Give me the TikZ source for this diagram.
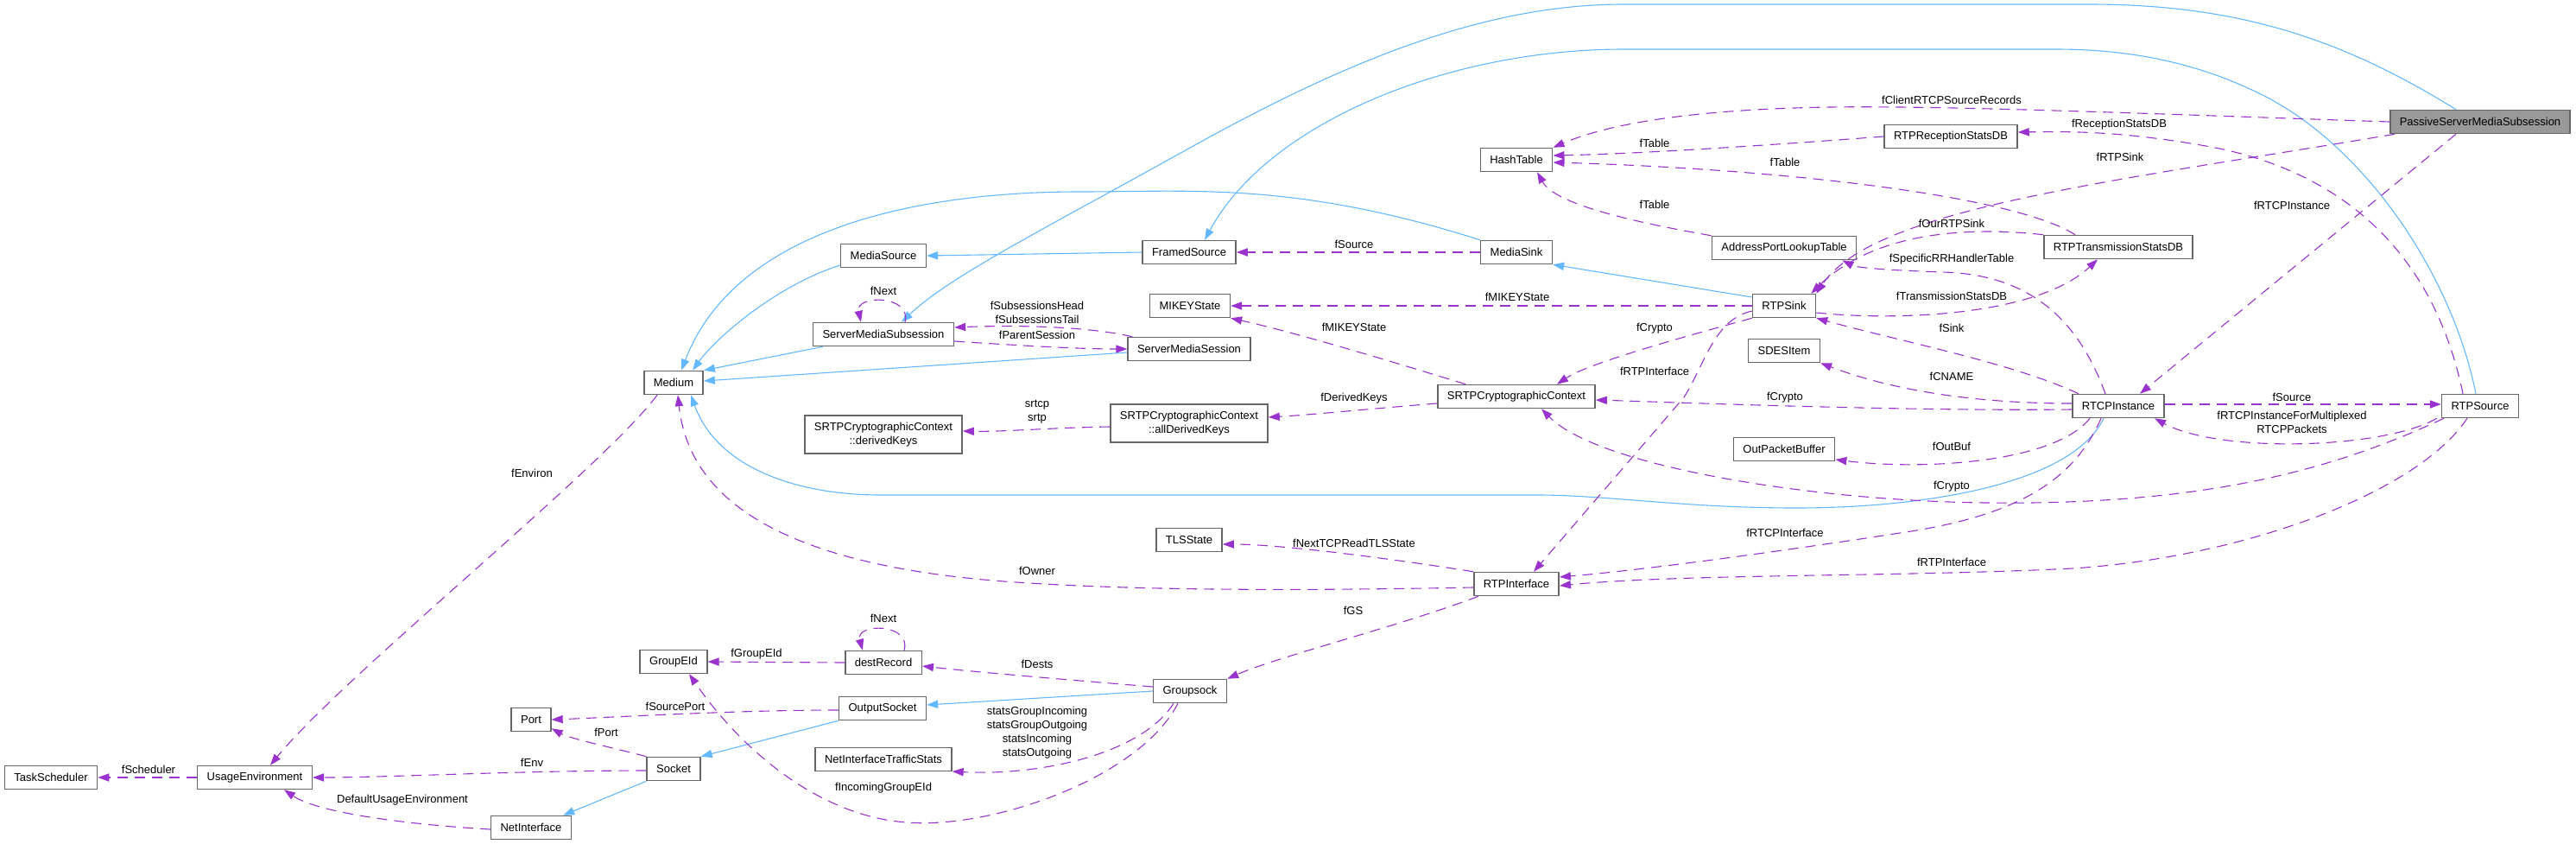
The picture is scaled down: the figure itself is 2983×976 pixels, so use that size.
\documentclass[tikz,border=0pt]{standalone}
\usepackage{fontspec}
\setmainfont{Liberation Sans}
\usetikzlibrary{arrows.meta}
\definecolor{inhblue}{HTML}{63B8FF}
\definecolor{usepurple}{HTML}{9A32CD}
\definecolor{boxgray}{HTML}{666666}
\definecolor{psmsfill}{HTML}{999999}
\begin{document}
\begin{tikzpicture}[x=0.5pt,y=-0.5pt,
  cls/.style={draw=boxgray, line width=0.75pt, fill=white, inner xsep=5.5pt, inner ysep=1pt, minimum height=13.5pt, font=\fontsize{6.5}{8}\selectfont, align=center},
  cls2/.style={cls, minimum height=22pt},
  lbl/.style={font=\fontsize{6.5}{8}\selectfont, align=center, inner sep=0pt},
  inh/.style={draw=inhblue, line width=0.55pt, -{Triangle[length=6.5pt,width=4.6pt]}},
  use/.style={draw=usepurple, line width=0.55pt, dash pattern=on 6pt off 4pt, -{Triangle[length=6.5pt,width=4.6pt]}}]
\useasboundingbox (0,0) rectangle (2983,976);
% nodes
\node[cls, fill=psmsfill] (psms) at (2872,141) {PassiveServerMediaSubsession};
\node[cls] (hash) at (1756,185) {HashTable};
\node[cls] (rrdb) at (2259,158) {RTPReceptionStatsDB};
\node[cls] (aplt) at (2066,287) {AddressPortLookupTable};
\node[cls] (rtdb) at (2453,286) {RTPTransmissionStatsDB};
\node[cls] (msink) at (1756,292) {MediaSink};
\node[cls] (fsrc) at (1377,292) {FramedSource};
\node[cls] (msrc) at (1023,296) {MediaSource};
\node[cls] (mikey) at (1378,354) {MIKEYState};
\node[cls] (rtpsink) at (2066,354) {RTPSink};
\node[cls] (smsub) at (1023,387) {ServerMediaSubsession};
\node[cls] (smsess) at (1377,404) {ServerMediaSession};
\node[cls] (medium) at (780,443) {Medium};
\node[cls] (sdes) at (2066,406) {SDESItem};
\node[cls] (srtp) at (1756,459) {SRTPCryptographicContext};
\node[cls] (rtcp) at (2453,470) {RTCPInstance};
\node[cls] (rtpsrc) at (2872,470) {RTPSource};
\node[cls] (opb) at (2066,520) {OutPacketBuffer};
\node[cls2] (dkeys) at (1023,503) {SRTPCryptographicContext\\::derivedKeys};
\node[cls2] (adkeys) at (1377,490) {SRTPCryptographicContext\\::allDerivedKeys};
\node[cls] (tls) at (1377,625) {TLSState};
\node[cls] (rtpif) at (1756,676) {RTPInterface};
\node[cls] (gid) at (780,766) {GroupEId};
\node[cls] (dest) at (1023,767) {destRecord};
\node[cls] (port) at (615,833) {Port};
\node[cls] (osock) at (1022,820) {OutputSocket};
\node[cls] (gsock) at (1378,800) {Groupsock};
\node[cls] (nits) at (1023,879) {NetInterfaceTrafficStats};
\node[cls] (tasks) at (59,900) {TaskScheduler};
\node[cls] (uenv) at (295,900) {UsageEnvironment};
\node[cls] (socket) at (780,890) {Socket};
\node[cls] (netif) at (615,958) {NetInterface};
% inheritance
\draw[inh] ([xshift=-14pt]psms.north) .. controls (2720,50) and (2600,5) .. (2420,5) -- (1880,5) .. controls (1720,5) and (1560,70) .. (1380,170) .. controls (1200,270) and (1100,320) .. ([xshift=10.5pt]smsub.north);
\draw[inh] ([xshift=-2.5pt]rtpsrc.north) .. controls (2840,320) and (2740,170) .. (2620,110) .. controls (2540,70) and (2460,57) .. (2380,57) -- (1880,57) .. controls (1680,57) and (1470,140) .. ([xshift=9pt]fsrc.north);
\draw[inh] (fsrc.west) -- (msrc.east);
\draw[inh] ([yshift=-5.5pt]msrc.west) .. controls (900,330) and (830,390) .. ([xshift=11pt]medium.north);
\draw[inh] (msink.north west) .. controls (1500,210) and (1380,222) .. (1250,222) .. controls (1050,222) and (850,270) .. ([xshift=4.5pt]medium.north);
\draw[inh] ([yshift=5pt]rtpsink.west) -- (msink.south east);
\draw[inh] ([xshift=6pt]smsub.south west) -- (medium.north east);
\draw[inh] ([yshift=-2pt]smsess.west) -- ([yshift=1pt]medium.east);
\draw[inh] ([xshift=-8.5pt]rtcp.south) .. controls (2400,560) and (2230,588) .. (2080,588) .. controls (1950,588) and (1860,573) .. (1780,573) -- (1020,573) .. controls (920,573) and (830,540) .. ([xshift=10pt]medium.south);
\draw[inh] (osock.south west) -- (socket.north east);
\draw[inh] (gsock.west) -- ([yshift=2pt]osock.east);
\draw[inh] (socket.south west) -- ([xshift=-5pt]netif.north east);
% usage
\draw[use] (psms.west) .. controls (2500,132) and (2250,122) .. (2120,124) .. controls (1980,126) and (1870,140) .. (hash.north east);
\node[lbl] (l1) at (2260,116) {fClientRTCPSourceRecords};
\draw[use] ([xshift=3pt]psms.south west) .. controls (2450,210) and (2170,240) .. (rtpsink.north east);
\node[lbl] (l2) at (2455,182) {fRTPSink};
\draw[use] ([xshift=-14pt]psms.south) -- ([xshift=12.5pt]rtcp.north);
\node[lbl] (l3) at (2654,238) {fRTCPInstance};
\draw[use] (rrdb.west) .. controls (2050,168) and (1900,178) .. ([yshift=2.5pt]hash.east);
\node[lbl] (l4) at (1916,166) {fTable};
\draw[use] ([xshift=-25pt]rtdb.north) .. controls (2330,225) and (2050,195) .. ([yshift=-1.5pt]hash.east);
\node[lbl] (l5) at (2067,188) {fTable};
\draw[use] (aplt.north west) .. controls (1880,255) and (1800,235) .. ([xshift=12pt]hash.south);
\node[lbl] (l6) at (1916,237) {fTable};
\draw[use] ([xshift=-10pt]rtpsrc.north) .. controls (2820,300) and (2720,200) .. (2560,170) .. controls (2460,152) and (2400,152) .. ([yshift=2.5pt]rrdb.east);
\node[lbl] (l7) at (2454,144) {fReceptionStatsDB};
\draw[use] (rtdb.north west) .. controls (2280,262) and (2170,268) .. ([xshift=-3pt]rtpsink.north east);
\node[lbl] (l8) at (2260,259) {fOurRTPSink};
\draw[use] ([yshift=-4pt]rtpsink.east) .. controls (2200,372) and (2360,365) .. ([xshift=-12pt]rtdb.south);
\node[lbl] (l9) at (2260,343) {fTransmissionStatsDB};
\draw[use] ([xshift=-7.5pt]rtcp.north) .. controls (2410,380) and (2360,318) .. (2250,315) .. controls (2190,313) and (2150,310) .. ([xshift=-8.5pt]aplt.south east);
\node[lbl] (l10) at (2260,300) {fSpecificRRHandlerTable};
\draw[use] ([xshift=-23pt]rtcp.north) .. controls (2330,420) and (2200,395) .. (rtpsink.south east);
\node[lbl] (l11) at (2260,380) {fSink};
\draw[use] (rtpsink.west) -- (mikey.east);
\node[lbl] (l12) at (1757,344) {fMIKEYState};
\draw[use] ([xshift=16.5pt]srtp.north west) .. controls (1600,415) and (1500,385) .. (mikey.south east);
\node[lbl] (l13) at (1568,379) {fMIKEYState};
\draw[use] (rtpsink.south west) .. controls (1950,390) and (1840,420) .. ([xshift=23.5pt]srtp.north);
\node[lbl] (l14) at (1916,380) {fCrypto};
\draw[use] ([yshift=-3pt]rtpsink.west) .. controls (1985,370) and (1975,420) .. (1950,460) -- ([xshift=10pt]rtpif.north);
\node[lbl] (l15) at (1916,430) {fRTPInterface};
\draw[use] ([yshift=1.5pt]rtcp.west) .. controls (2300,467) and (2200,455) .. (sdes.south east);
\node[lbl] (l16) at (2260,436) {fCNAME};
\draw[use] ([yshift=-2pt]rtcp.west) .. controls (2200,476) and (1950,466) .. ([yshift=-2pt]srtp.east);
\node[lbl] (l17) at (2067,460) {fCrypto};
\draw[use] ([yshift=1pt]rtcp.east) -- ([yshift=1pt]rtpsrc.west);
\node[lbl] (l18) at (2654,460) {fSource};
\draw[use] ([xshift=-2.5pt]rtpsrc.south west) .. controls (2760,520) and (2570,525) .. ([xshift=21pt]rtcp.south);
\node[lbl] (l19) at (2654,489) {fRTCPInstanceForMultiplexed\\RTCPPackets};
\draw[use] ([xshift=-16.5pt]rtcp.south) .. controls (2380,535) and (2230,545) .. ([yshift=-6pt]opb.east);
\node[lbl] (l20) at (2260,517) {fOutBuf};
\draw[use] ([xshift=-21pt]rtpsrc.south) .. controls (2700,545) and (2550,585) .. (2300,582) .. controls (2100,580) and (1850,540) .. ([xshift=14.5pt]srtp.south);
\node[lbl] (l21) at (2260,563) {fCrypto};
\draw[use] ([xshift=-10pt]rtcp.south) .. controls (2400,560) and (2330,598) .. (2200,617) .. controls (2050,640) and (1900,660) .. ([yshift=4pt]rtpif.east);
\node[lbl] (l22) at (2067,617) {fRTCPInterface};
\draw[use] ([xshift=-7.5pt]rtpsrc.south) .. controls (2800,570) and (2600,645) .. (2400,658) .. controls (2200,668) and (1950,664) .. ([yshift=-1pt]rtpif.east);
\node[lbl] (l23) at (2260,651) {fRTPInterface};
\draw[use] (rtpif.north west) .. controls (1600,645) and (1480,630) .. ([yshift=-2.5pt]tls.east);
\node[lbl] (l24) at (1568,629) {fNextTCPReadTLSState};
\draw[use] ([yshift=-2pt]rtpif.west) .. controls (1500,684) and (1300,684) .. (1150,672) .. controls (950,655) and (800,600) .. ([xshift=2.5pt]medium.south);
\node[lbl] (l25) at (1201,661) {fOwner};
\draw[use] ([xshift=-22pt]rtpif.south) .. controls (1620,725) and (1480,760) .. (gsock.north east);
\node[lbl] (l26) at (1567,707) {fGS};
\draw[use] ([yshift=2.5pt]gsock.west) .. controls (1250,788) and (1130,778) .. ([yshift=-2pt]dest.east);
\node[lbl] (l27) at (1201,769) {fDests};
\draw[use] ([xshift=12pt]dest.north) .. controls (1056,721) and (990,721) .. ([xshift=-12pt]dest.north);
\node[lbl] (l28) at (1023,716) {fNext};
\draw[use] (dest.west) -- (gid.east);
\node[lbl] (l29) at (876,757) {fGroupEId};
\draw[use] ([xshift=-7pt]gsock.south) .. controls (1320,900) and (1150,960) .. (1050,952) .. controls (950,945) and (860,870) .. ([xshift=9pt]gid.south);
\node[lbl] (l30) at (1023,912) {fIncomingGroupEId};
\draw[use] ([xshift=-9.5pt]gsock.south) .. controls (1320,875) and (1200,898) .. ([yshift=-7pt]nits.east);
\node[lbl] (l31) at (1201,848) {statsGroupIncoming\\statsGroupOutgoing\\statsIncoming\\statsOutgoing};
\draw[use] ([yshift=-1pt]osock.west) .. controls (850,822) and (720,830) .. (port.east);
\node[lbl] (l32) at (782,818) {fSourcePort};
\draw[use] (socket.north west) .. controls (720,868) and (660,855) .. ([yshift=2pt]port.south east);
\node[lbl] (l33) at (702,848) {fPort};
\draw[use] ([yshift=-1pt]socket.west) .. controls (600,892) and (450,900) .. (uenv.east);
\node[lbl] (l34) at (616,883) {fEnv};
\draw[use] (uenv.west) -- (tasks.east);
\node[lbl] (l35) at (172,891) {fScheduler};
\draw[use] ([yshift=-1pt]netif.west) .. controls (480,955) and (370,942) .. ([xshift=17pt]uenv.south);
\node[lbl] (l36) at (466,926) {DefaultUsageEnvironment};
\draw[use] ([xshift=-9.5pt]medium.south) .. controls (700,540) and (400,780) .. ([xshift=9pt]uenv.north);
\node[lbl] (l37) at (616,548) {fEnviron};
\draw[use] ([xshift=12.5pt]smsub.north) .. controls (1056,341) and (990,341) .. ([xshift=-13pt]smsub.north);
\node[lbl] (l38) at (1023,337) {fNext};
\draw[use] ([xshift=3pt]smsess.north west) .. controls (1260,378) and (1180,376) .. ([yshift=4pt]smsub.east);
\node[lbl] (l39) at (1201,362) {fSubsessionsHead\\fSubsessionsTail};
\draw[use] ([yshift=-4pt]smsub.east) .. controls (1180,400) and (1250,404) .. (smsess.west);
\node[lbl] (l40) at (1201,388) {fParentSession};
\draw[use] (msink.west) -- (fsrc.east);
\node[lbl] (l41) at (1568,283) {fSource};
\draw[use] ([yshift=-4pt]srtp.west) .. controls (1600,472) and (1520,480) .. ([yshift=3.5pt]adkeys.east);
\node[lbl] (l42) at (1568,461) {fDerivedKeys};
\draw[use] ([yshift=-2pt]adkeys.west) .. controls (1220,495) and (1160,500) .. ([yshift=2pt]dkeys.east);
\node[lbl] (l43) at (1201,477) {srtcp\\srtp};
\end{tikzpicture}
\end{document}
